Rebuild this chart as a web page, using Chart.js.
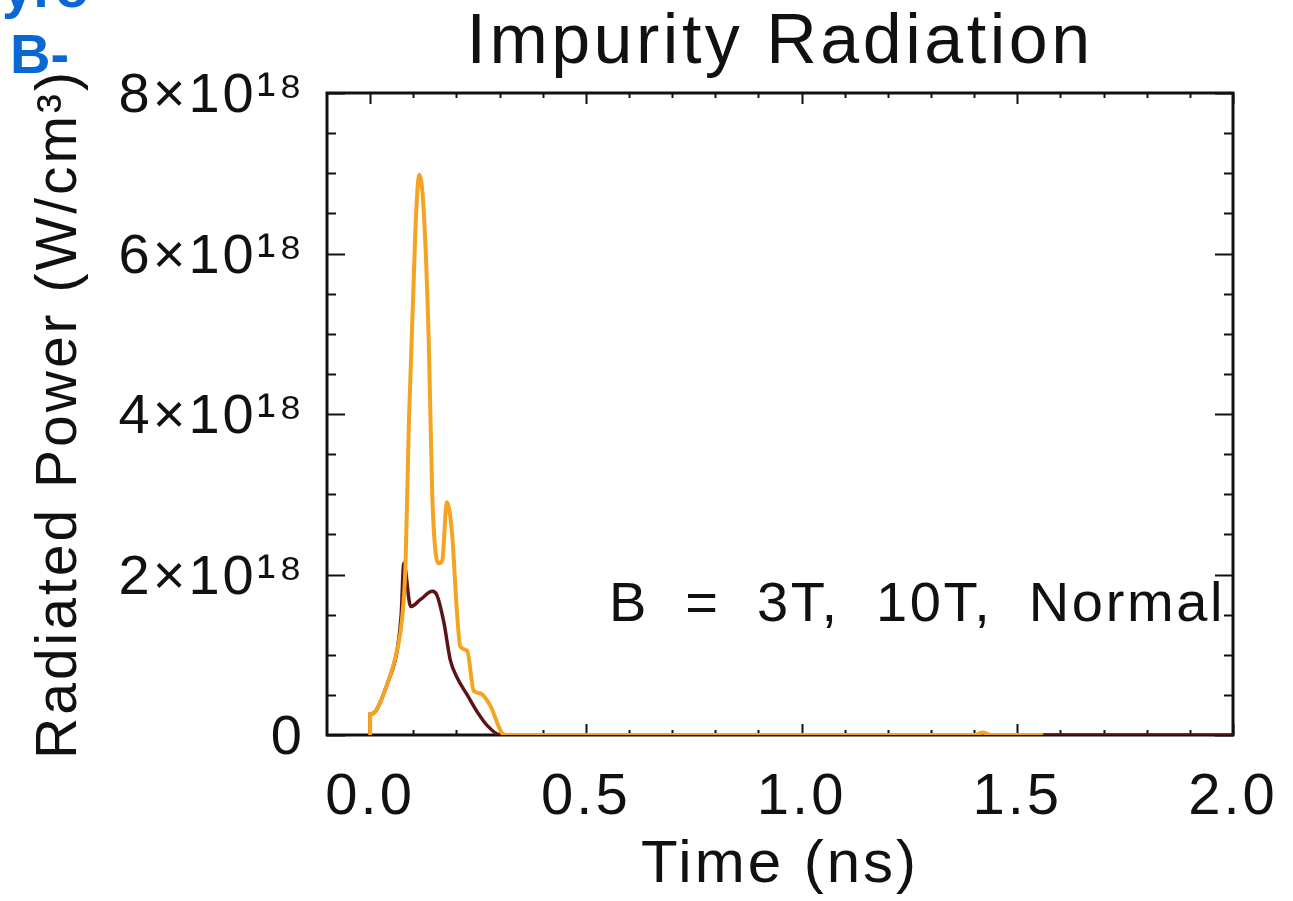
<!DOCTYPE html>
<html>
<head>
<meta charset="utf-8">
<script src="https://cdn.jsdelivr.net/npm/chart.js@4/dist/chart.umd.min.js"></script>
<style>
  html, body { margin: 0; padding: 0; background: #fff; }
  #wrap { position: relative; width: 1293px; height: 901px; overflow: hidden; }
  #chart { position: absolute; left: 0; top: 0; }
  .slideText { position: absolute; font-family: "Liberation Sans", Arial, sans-serif; font-weight: bold; color: #0a68d4; font-size: 56px; line-height: 1; }
</style>
</head>
<body>
<div id="wrap">
  <canvas id="chart" width="1293" height="901"></canvas>
  <div class="slideText" style="left:2px; top:-40px;">yro</div>
  <div class="slideText" style="left:10px; top:26px;">B-</div>
</div>
<script>
// ===== Impurity Radiation chart =====
// values in units of 1e18 W/cm^3, time in ns

const chartTitle = 'Impurity Radiation';
const xAxisTitle = 'Time (ns)';
const yAxisTitle = 'Radiated Power (W/cm³)';
const noteText = 'B  =  3T,  10T,  Normal';

const xTickValues = [0, 0.5, 1.0, 1.5, 2.0];
const xTickLabels = ['0.0', '0.5', '1.0', '1.5', '2.0'];
const yTickValues = [0, 2, 4, 6, 8];
const yTickLabels = ['0', '2×10¹⁸', '4×10¹⁸', '6×10¹⁸', '8×10¹⁸'];

// 10T run (orange)
const timeOrange = [0.0, 0.0, 0.013, 0.040, 0.063, 0.074, 0.082, 0.090, 0.105, 0.114, 0.124, 0.136, 0.144,
                    0.159, 0.167, 0.178, 0.190, 0.201, 0.209, 0.225, 0.240, 0.255, 0.279, 0.306, 0.316, 1.40, 1.42, 1.44, 1.56];
const powerOrange = [0.0, 0.26, 0.30, 0.64, 1.07, 1.45, 2.12, 3.93, 6.31, 6.98, 6.55, 4.88, 2.98,
                     2.14, 2.17, 2.90, 2.50, 1.55, 1.10, 1.05, 0.55, 0.52, 0.36, 0.02, 0.0, 0.0, 0.03, 0.0, 0.0];

// 3T run (dark red)
const timeDark = [0.0, 0.0, 0.013, 0.040, 0.063, 0.072, 0.078, 0.094, 0.117, 0.144, 0.155, 0.171, 0.186,
                  0.202, 0.225, 0.248, 0.271, 0.302, 2.0];
const powerDark = [0.0, 0.26, 0.30, 0.64, 1.07, 1.50, 2.14, 1.60, 1.69, 1.79, 1.74, 1.40, 0.93,
                   0.71, 0.50, 0.29, 0.12, 0.0, 0.0];

const colorOrange = '#f5a322';
const colorDark = '#5c1416';
const FONT = '"Liberation Sans", Arial, sans-serif';

function toPoints(xs, ys) {
    return xs.map((x, i) => ({ x: x, y: ys[i] }));
}

// box and inward major/minor ticks on all four sides (under the curves)
const framePlugin = {
    id: 'frame',
    beforeDraw(chart) {
        chart.ctx.letterSpacing = '3px';
    },
    beforeDatasetsDraw(chart) {
        const ctx = chart.ctx;
        const xs = chart.scales.x;
        const ys = chart.scales.y;
        const a = chart.chartArea;
        ctx.save();
        ctx.strokeStyle = '#111';
        ctx.lineWidth = 2;

        // x ticks every 0.1, major every 0.5
        for (let i = 0; i <= 20; i++) {
            const px = Math.round(xs.getPixelForValue(i / 10)) + 0.5;
            const len = (i % 5 === 0) ? 11 : 5;
            ctx.beginPath();
            ctx.moveTo(px, a.bottom); ctx.lineTo(px, a.bottom - len);
            ctx.moveTo(px, a.top); ctx.lineTo(px, a.top + len);
            ctx.stroke();
        }
        // y ticks every 0.5, major every 2
        for (let i = 0; i <= 16; i++) {
            const py = Math.round(ys.getPixelForValue(i / 2)) + 0.5;
            const len = (i % 4 === 0) ? 18 : 9;
            ctx.beginPath();
            ctx.moveTo(a.left, py); ctx.lineTo(a.left + len, py);
            ctx.moveTo(a.right, py); ctx.lineTo(a.right - len, py);
            ctx.stroke();
        }

        ctx.lineWidth = 3;
        ctx.strokeRect(a.left, a.top, a.right - a.left, a.bottom - a.top);
        ctx.restore();
    },
    afterDraw(chart) {
        const ctx = chart.ctx;
        const ys = chart.scales.y;
        const a = chart.chartArea;
        ctx.save();
        ctx.fillStyle = '#111';
        ctx.textBaseline = 'alphabetic';

        // title
        ctx.font = '70px ' + FONT;
        ctx.letterSpacing = '3.5px';
        ctx.textAlign = 'center';
        ctx.fillText(chartTitle, (a.left + a.right) / 2, 63);

        // note inside the plot, stretched to its width in the reference
        ctx.font = '56px ' + FONT;
        ctx.letterSpacing = '0px';
        const targetW = 616;
        const w = ctx.measureText(noteText).width;
        ctx.letterSpacing = ((targetW - w) / noteText.length).toFixed(2) + 'px';
        ctx.textAlign = 'left';
        ctx.fillText(noteText, a.right - 8 - targetW, ys.getPixelForValue(1.42));
        ctx.restore();
    }
};

const ctx = document.getElementById('chart');
new Chart(ctx, {
    type: 'line',
    data: {
        datasets: [
            {
                label: '10T',
                data: toPoints(timeOrange, powerOrange),
                borderColor: colorOrange,
                borderWidth: 4,
                pointRadius: 0,
                cubicInterpolationMode: 'monotone',
                fill: false
            },
            {
                label: '3T',
                data: toPoints(timeDark, powerDark),
                borderColor: colorDark,
                borderWidth: 3.5,
                pointRadius: 0,
                cubicInterpolationMode: 'monotone',
                fill: false
            }
        ]
    },
    options: {
        responsive: false,
        animation: false,
        layout: { padding: { top: 93, right: 60, bottom: 0, left: 0 } },
        plugins: {
            legend: { display: false },
            tooltip: { enabled: false },
            title: { display: false }
        },
        scales: {
            x: {
                type: 'linear',
                min: -0.1,
                max: 2.0,
                afterBuildTicks: (scale) => { scale.ticks = xTickValues.map(v => ({ value: v })); },
                afterFit: (scale) => { scale.height = 166; scale.paddingLeft = 0; scale.paddingRight = 0; },
                grid: { display: false, drawTicks: false },
                border: { display: false },
                ticks: {
                    color: '#111',
                    font: { family: FONT, size: 58 },
                    padding: 28,
                    maxRotation: 0,
                    callback: (v) => xTickLabels[xTickValues.indexOf(v)]
                },
                title: {
                    display: true,
                    text: xAxisTitle,
                    color: '#111',
                    font: { family: FONT, size: 60 },
                    padding: { top: 0, bottom: 0 }
                }
            },
            y: {
                type: 'linear',
                min: 0,
                max: 8,
                afterBuildTicks: (scale) => { scale.ticks = yTickValues.map(v => ({ value: v })); },
                afterFit: (scale) => { scale.width = 327; scale.paddingTop = 0; scale.paddingBottom = 0; },
                grid: { display: false, drawTicks: false },
                border: { display: false },
                ticks: {
                    color: '#111',
                    font: { family: FONT, size: 56 },
                    padding: 22,
                    labelOffset: 4,
                    callback: (v) => yTickLabels[yTickValues.indexOf(v)]
                },
                title: {
                    display: true,
                    text: yAxisTitle,
                    color: '#111',
                    font: { family: FONT, size: 57 },
                    padding: { top: 26, bottom: 0 }
                }
            }
        }
    },
    plugins: [framePlugin]
});
</script>
</body>
</html>
